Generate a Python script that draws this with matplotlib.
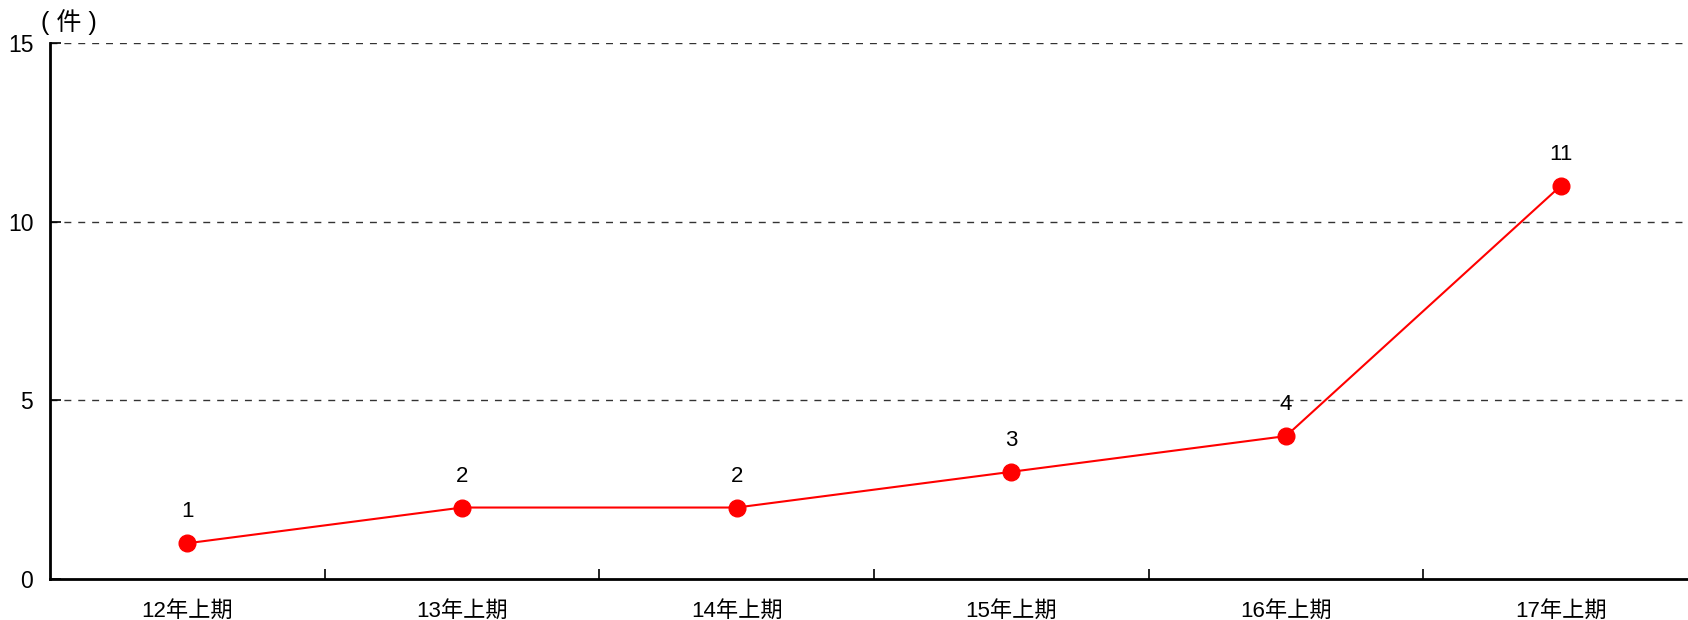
import matplotlib
matplotlib.use("Agg")
import matplotlib.pyplot as plt
from matplotlib.ticker import FixedLocator

plt.rcParams['font.family'] = ['Liberation Sans', 'Noto Sans CJK JP', 'DejaVu Sans']

periods = ["12年上期", "13年上期", "14年上期", "15年上期", "16年上期", "17年上期"]
counts = [1, 2, 2, 3, 4, 11]
y_ticks = [0, 5, 10, 15]
unit_label = "( 件 )"

fig = plt.figure(figsize=(16.88, 6.2), dpi=100)
ax = fig.add_axes([50 / 1688, 1 - 579 / 620, 1648 / 1688, 536 / 620])

x = list(range(len(periods)))
ax.plot(x, counts, color="#ff0000", lw=1.5, marker="o", markersize=12,
        markerfacecolor="#ff0000", markeredgecolor="#ff0000", zorder=3, clip_on=False)
for xi, v in zip(x, counts):
    ax.annotate(str(v), (xi, v), xytext=(0, 15), textcoords="offset points",
                ha="center", va="bottom", fontsize=16, color="black")

ax.set_xlim(-0.5, len(periods) - 0.5)
ax.set_ylim(0, 15)
ax.set_yticks(y_ticks)
ax.set_yticklabels([str(t) for t in y_ticks], fontsize=16.5)
ax.tick_params(axis="y", direction="in", length=8, width=1.2, pad=12)

ax.set_xticks(x)
ax.set_xticklabels(periods, fontsize=16)
ax.tick_params(axis="x", which="major", length=0, pad=16)
ax.xaxis.set_minor_locator(FixedLocator([i + 0.5 for i in range(len(periods) - 1)]))
ax.tick_params(axis="x", which="minor", direction="in", length=7, width=1.2)

for t in y_ticks[1:]:
    ax.axhline(t, color="#333333", lw=1.0, ls=(0, (5, 5)), zorder=1)

for side in ("top", "right"):
    ax.spines[side].set_visible(False)
for side in ("left", "bottom"):
    ax.spines[side].set_linewidth(2)
    ax.spines[side].set_color("black")

fig.text(41 / 1688, 1 - 22 / 620, unit_label, fontsize=18, va="center", ha="left")

fig.savefig("out.png", dpi=100)
